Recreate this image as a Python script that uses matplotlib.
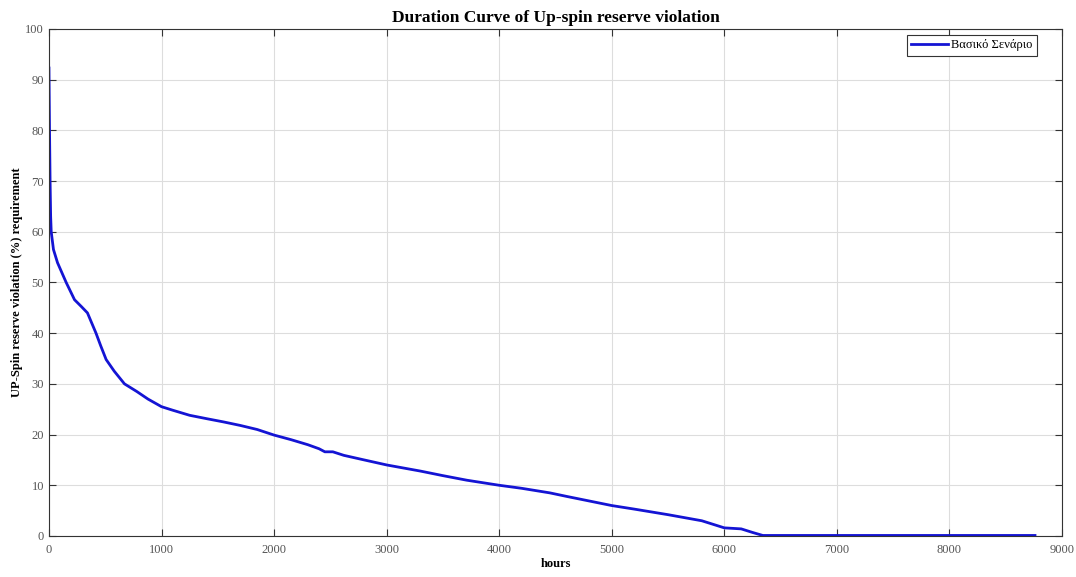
import matplotlib.pyplot as plt

# duration curve (hours, % violation)
hours = [0, 5, 10, 15, 20, 40, 76, 153, 227, 290, 342, 380, 418, 460, 508,
         580, 671, 780, 880, 1000, 1100, 1250, 1409, 1550, 1700, 1850,
         2000, 2150, 2300, 2400, 2451, 2522, 2620, 2800, 3002, 3300, 3500, 3712,
         4000, 4200, 4450, 4600, 4800, 5000, 5200, 5500, 5800, 6000, 6150, 6250,
         6342, 7000, 8000, 8760]
violation = [92.3, 80, 70, 63, 60, 56.5, 53.9, 50, 46.6, 45.2, 44, 42, 40, 37.5, 34.8,
             32.5, 30, 28.5, 27, 25.5, 24.8, 23.8, 23.1, 22.5, 21.8, 21,
             19.9, 19.0, 18.0, 17.2, 16.6, 16.6, 15.9, 15.0, 14.0, 12.8, 11.9, 11.0,
             10.0, 9.4, 8.5, 7.8, 6.9, 6.0, 5.3, 4.2, 3.0, 1.6, 1.4, 0.7,
             0.1, 0.1, 0.1, 0.1]

series_label = 'Βασικό Σενάριο'
xticks = list(range(0, 9001, 1000))
yticks = list(range(0, 101, 10))

plt.rcParams['font.family'] = ['Liberation Serif', 'DejaVu Serif']

fig = plt.figure(figsize=(10.76, 5.77), dpi=100)
ax = fig.add_axes([0.0455, 0.0711, 0.9415, 0.8787])
ax.plot(hours, violation, color='#1414d4', lw=2.0, label=series_label)

ax.set_xlim(0, 9000)
ax.set_ylim(0, 100)
ax.set_xticks(xticks)
ax.set_yticks(yticks)
ax.tick_params(direction='in', length=5, top=True, right=True, labelsize=9,
               labelcolor='#555555', color='#333333')
ax.tick_params(axis='x', pad=6)
ax.grid(True, color='#dddddd', lw=0.8)
for s in ax.spines.values():
    s.set_color('#333333')
    s.set_linewidth(0.8)

# fixed y so matplotlib doesn't shift the title
ax.set_title('Duration Curve of Up-spin reserve violation', fontsize=12.5,
             fontweight='bold', y=1.014, pad=0)
ax.set_xlabel('hours', fontsize=9, fontweight='bold', labelpad=1)
ax.set_ylabel('UP-Spin reserve violation (%) requirement', fontsize=9,
              fontweight='bold', labelpad=2)

leg = ax.legend(loc='upper right', bbox_to_anchor=(0.975, 0.988), borderaxespad=0,
                fontsize=9, fancybox=False, framealpha=1, edgecolor='#333333',
                handlelength=3, handletextpad=0.2, borderpad=0.35)
leg.get_frame().set_linewidth(0.8)

fig.savefig('out.png', dpi=100)
